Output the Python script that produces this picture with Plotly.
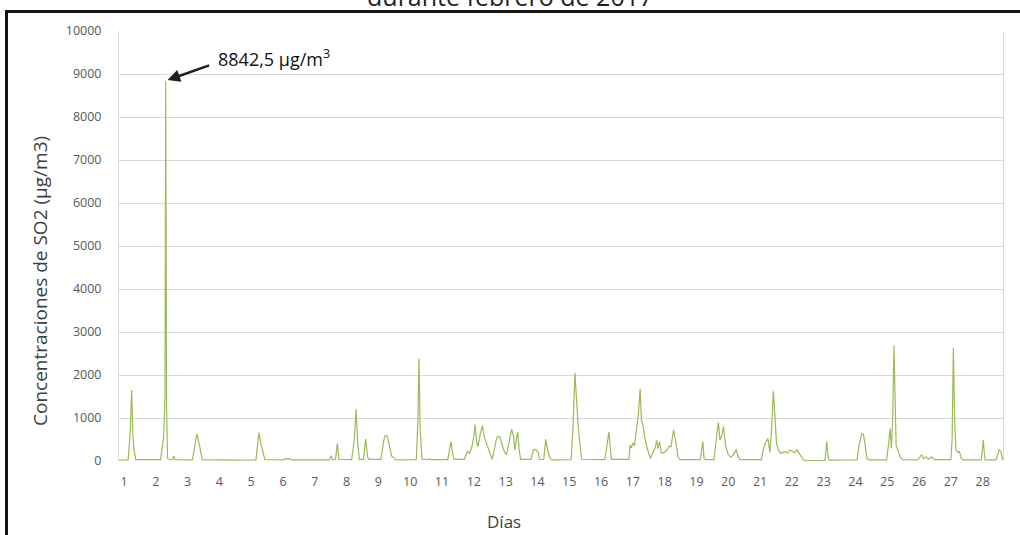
import plotly.graph_objects as go

# Concentraciones horarias de SO2, febrero de 2017 (día fraccional, µg/m3)
dias = [
    0.85, 1.13, 1.20, 1.24, 1.28, 1.31, 1.37,
    1.90, 2.15, 2.20, 2.25, 2.29, 2.311, 2.34, 2.37, 2.45, 2.53, 2.57, 2.61,
    3.15, 3.22, 3.29, 3.36, 3.46,
    4.50,
    5.15, 5.24, 5.32, 5.43,
    6.05, 6.09, 6.15, 6.20, 6.27,
    7.45, 7.51, 7.56, 7.65, 7.71, 7.76,
    8.16, 8.24, 8.30, 8.34, 8.40, 8.53, 8.60, 8.66, 8.70,
    9.08, 9.16, 9.21, 9.28, 9.35, 9.42, 9.50, 9.56,
    10.19, 10.24, 10.277, 10.31, 10.37, 10.52, 10.60, 10.66,
    11.18, 11.24, 11.28, 11.33, 11.38,
    11.70, 11.80, 11.86, 11.93, 12.00, 12.04, 12.10, 12.13, 12.20, 12.27, 12.33, 12.42, 12.50, 12.57,
    12.63, 12.70, 12.75, 12.82, 12.88, 12.97, 13.03, 13.10, 13.19, 13.25, 13.29, 13.34, 13.38, 13.42, 13.47,
    13.80, 13.87, 13.95, 14.02, 14.06,
    14.20, 14.26, 14.32, 14.40, 14.46,
    15.06, 15.12, 15.18, 15.23, 15.27, 15.32, 15.39,
    16.12, 16.19, 16.25, 16.29, 16.33,
    16.88, 16.91, 16.95, 17.00, 17.05, 17.10, 17.17, 17.23, 17.27, 17.33, 17.37, 17.45, 17.55,
    17.62, 17.70, 17.75, 17.79, 17.84, 17.90, 17.98, 18.08, 18.15, 18.20, 18.28, 18.36, 18.42, 18.48,
    19.12, 19.16, 19.20, 19.24, 19.28,
    19.55, 19.62, 19.69, 19.74, 19.80, 19.85, 19.92, 20.00, 20.08, 20.17, 20.25, 20.31, 20.38,
    21.04, 21.10, 21.18, 21.25, 21.31, 21.36, 21.42, 21.47, 21.52, 21.58, 21.64, 21.72, 21.79,
    21.86, 21.93, 22.02, 22.08, 22.16, 22.24, 22.30, 22.36, 22.45,
    23.04, 23.07, 23.10, 23.13, 23.17,
    24.05, 24.12, 24.20, 24.25, 24.30, 24.36, 24.42,
    24.98, 25.05, 25.09, 25.13, 25.17, 25.21, 25.25, 25.28, 25.33, 25.40, 25.48,
    25.95, 26.02, 26.08, 26.14, 26.22, 26.29, 26.40, 26.48,
    27.00, 27.04, 27.08, 27.12, 27.16, 27.22, 27.27, 27.33, 27.40,
    27.96, 27.99, 28.02, 28.05, 28.08,
    28.42, 28.48, 28.52, 28.57, 28.62, 28.64,
]

so2 = [
    20, 25, 700, 1650, 600, 280, 30,
    25, 30, 300, 580, 1500, 8842.5, 1200, 60, 25, 40, 120, 30,
    25, 300, 630, 420, 30,
    20,
    25, 660, 350, 30,
    25, 65, 40, 55, 25,
    25, 120, 30, 40, 410, 40,
    30, 500, 1200, 500, 40, 40, 510, 100, 40,
    40, 450, 590, 580, 300, 110, 60, 25,
    30, 900, 2380, 800, 40, 30, 50, 30,
    30, 250, 450, 200, 40,
    40, 220, 180, 300, 560, 840, 400, 330, 620, 820, 560, 380, 180, 40,
    200, 480, 570, 560, 400, 200, 150, 380, 740, 560, 260, 520, 680, 300, 40,
    40, 260, 270, 200, 30,
    40, 510, 250, 60, 25,
    30, 800, 2050, 1300, 950, 500, 40,
    30, 350, 680, 300, 40,
    40, 370, 300, 420, 350, 600, 1050, 1680, 950, 800, 560, 300, 60,
    180, 300, 480, 290, 450, 180, 200, 260, 350, 330, 720, 420, 100, 30,
    30, 300, 450, 60, 30,
    30, 500, 900, 490, 600, 800, 350, 150, 90, 150, 270, 100, 30,
    30, 250, 450, 520, 200, 700, 1620, 900, 400, 250, 180, 200, 220,
    180, 250, 230, 190, 260, 150, 100, 30, 10,
    10, 200, 450, 150, 20,
    25, 400, 640, 620, 400, 60, 25,
    25, 450, 760, 300, 900, 2690, 700, 350, 260, 100, 30,
    25, 80, 150, 60, 100, 40, 90, 30,
    30, 500, 2640, 900, 260, 200, 220, 60, 25,
    25, 250, 490, 200, 25,
    25, 200, 260, 220, 40, 20,
]

dias_ticks = list(range(1, 29))
y_ticks = list(range(0, 10001, 1000))

pico_dia = 2.311
pico_valor = 8842.5

fig = go.Figure()
fig.add_trace(go.Scatter(
    x=dias, y=so2, mode="lines",
    line=dict(color="#9bbb59", width=1.2),
    hoverinfo="skip", showlegend=False,
))

# plot area spans px 119..1003 horizontally and 31..461 vertically
L, R, T, B = 119, 1003, 31, 461
W, H = 1020, 535


def px_x(px):
    return (px - L) / (R - L)


def px_y(py):
    return (B - py) / (B - T)


grid = "#d9d9d9"
tick_font = dict(family="Open Sans, DejaVu Sans, sans-serif", size=12.5, color="#595959")

fig.update_layout(
    width=W, height=H,
    margin=dict(l=L, r=W - R, t=T, b=H - B),
    paper_bgcolor="white", plot_bgcolor="white",
    xaxis=dict(
        range=[0.843, 28.64], tickmode="array", tickvals=dias_ticks,
        ticktext=[str(d) for d in dias_ticks],
        showgrid=False, zeroline=False, showline=False,
        ticks="outside", ticklen=9, tickcolor="rgba(0,0,0,0)",
        tickfont=tick_font,
    ),
    yaxis=dict(
        range=[0, 10000], tickmode="array", tickvals=y_ticks,
        ticktext=[str(v) for v in y_ticks],
        showgrid=True, gridcolor=grid, gridwidth=1,
        zeroline=False, showline=True, mirror=True, linecolor=grid, linewidth=1,
        ticks="outside", ticklen=14, tickcolor="rgba(0,0,0,0)",
        tickfont=tick_font,
    ),
)

# outer frame (top and left edges)
frame = dict(color="#151515", width=3)
fig.add_shape(type="line", xref="paper", yref="paper",
              x0=px_x(6.5), x1=px_x(1030), y0=px_y(11.5), y1=px_y(11.5), line=frame)
fig.add_shape(type="line", xref="paper", yref="paper",
              x0=px_x(6.5), x1=px_x(6.5), y0=px_y(10), y1=px_y(545), line=frame)

# title line, partly above the page edge
fig.add_annotation(
    text="durante febrero de 2017", xref="paper", yref="paper",
    x=px_x(510), y=px_y(-4), xanchor="center", yanchor="middle",
    showarrow=False, font=dict(family="Open Sans, sans-serif", size=25, color="#222222"),
)

# axis titles
fig.add_annotation(
    text="Concentraciones de SO2 (µg/m3)", xref="paper", yref="paper",
    x=px_x(40), y=px_y(281), textangle=-90, xanchor="center", yanchor="middle",
    showarrow=False, font=dict(family="Open Sans, sans-serif", size=19, color="#404040"),
)
fig.add_annotation(
    text="Días", xref="paper", yref="paper",
    x=px_x(504), y=px_y(521), xanchor="center", yanchor="middle",
    showarrow=False, font=dict(family="Open Sans, sans-serif", size=17, color="#404040"),
)

# peak callout: arrow and label
fig.add_annotation(
    x=pico_dia, y=pico_valor, xref="x", yref="y", text="",
    showarrow=True, arrowhead=2, arrowsize=1, arrowwidth=2.5, arrowcolor="#1e1e1e",
    ax=45, ay=-16, standoff=2,
)
fig.add_annotation(
    text=f"{pico_valor:.1f}".replace(".", ",") + " µg/m<sup>3</sup>",
    xref="paper", yref="paper", x=px_x(216), y=px_y(58),
    xanchor="left", yanchor="middle", showarrow=False,
    font=dict(family="Open Sans, sans-serif", size=18, color="#111111"),
)

fig.write_html("out.html")
